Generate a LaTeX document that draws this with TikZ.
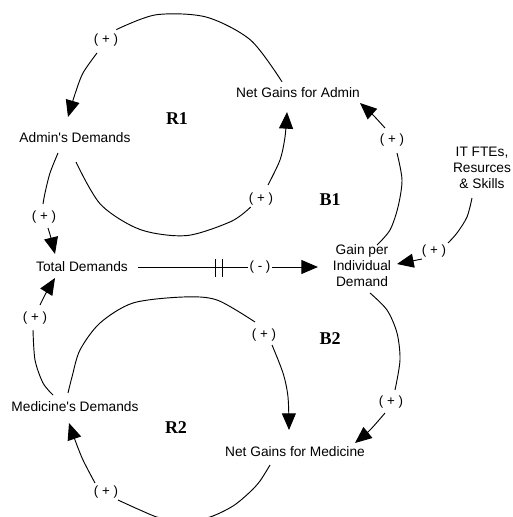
\documentclass[tikz,border=0pt]{standalone}
\usepackage{fontspec}
\setmainfont{Liberation Sans}
\newfontfamily\loopfont{Liberation Serif}
\usetikzlibrary{arrows.meta,calc}
\begin{document}
\begin{tikzpicture}[x=0.75pt,y=-0.75pt,
  var/.style={inner sep=1pt, font=\fontsize{10.3}{12}\selectfont, align=center},
  pol/.style={inner sep=0.5pt, font=\fontsize{10}{11}\selectfont},
  loopname/.style={font=\loopfont\bfseries\fontsize{13.5}{15}\selectfont},
  link/.style={line width=0.7pt, -{Triangle[length=12.5pt,width=10.5pt]}},
  seg/.style={line width=0.7pt},
]
\useasboundingbox (0,0) rectangle (513,517);

% variables
\node[var] (ad)   at (75,138)  {Admin\textquotesingle s Demands};
\node[var] (nga)  at (298,93)  {Net Gains for Admin};
\node[var] (it)   at (482,168) {IT FTEs,\\Resurces\\\& Skills};
\node[var] (gpid) at (362,266) {Gain per\\Individual\\Demand};
\node[var] (td)   at (82,267)  {Total Demands};
\node[var] (md)   at (75,407)  {Medicine\textquotesingle s Demands};
\node[var] (ngm)  at (295,452) {Net Gains for Medicine};

% loop names
\node[loopname] (r1) at (177,119) {R1};
\node[loopname] (b1) at (330,200) {B1};
\node[loopname] (b2) at (330,339) {B2};
\node[loopname] (r2) at (176,428) {R2};

% polarity labels
\node[pol] (l1)  at (106,40)  {( + )};
\node[pol] (l2)  at (261,199) {( + )};
\node[pol] (l3)  at (392,140) {( + )};
\node[pol] (l4)  at (434,251) {( + )};
\node[pol] (l5)  at (260,267) {( - )};
\node[pol] (l6)  at (44,217)  {( + )};
\node[pol] (l7)  at (35,318)  {( + )};
\node[pol] (l8)  at (264,335) {( + )};
\node[pol] (l9)  at (391,402) {( + )};
\node[pol] (l10) at (106,492) {( + )};

% Net Gains for Admin -> Admin's Demands
\draw[seg] plot[smooth] coordinates {($(nga)+(-16,-11.2)$) (250.6,40.1) (206,17) (156,14.8) ($(l1)+(10.3,-10.4)$)};
\draw[link] plot[smooth] coordinates {($(l1)+(-9,13)$) (83,73) (75,94) ($(ad)+(-7,-21)$)};

% Admin's Demands -> Net Gains for Admin
\draw[seg] plot[smooth] coordinates {($(ad)+(1,24)$) (100.6,204.4) (140.1,229.5) (186.4,235.6) (231,221.5) ($(l2)+(-10.3,8)$)};
\draw[link] plot[smooth] coordinates {($(l2)+(7,-14)$) (280,160) (285,137) ($(nga)+(-11,19)$)};

% Gain per Individual Demand -> Net Gains for Admin
\draw[seg] plot[smooth] coordinates {($(gpid)+(15,-21)$) (390,230) (398,207) (402,180) ($(l3)+(5,13)$)};
\draw[link] plot[smooth] coordinates {($(l3)+(-7,-12)$) (373,115) ($(nga)+(62,10)$)};

% IT FTEs -> Gain per Individual Demand
\draw[seg] plot[smooth] coordinates {($(it)+(-10,30)$) (467,217) (457,233) ($(l4)+(14,-8)$)};
\draw[link] ($(l4)+(-12,8)$) -- ($(gpid)+(35,-2)$);

% Total Demands -> Gain per Individual Demand (delay)
\draw[seg] ($(td)+(56,0)$) -- ($(l5)+(-12,0)$);
\draw[seg] (215,259) -- (215,277) (222,259) -- (222,277);
\draw[link] ($(l5)+(12,0)$) -- ($(gpid)+(-44,1)$);

% Admin's Demands -> Total Demands
\draw[seg] plot[smooth] coordinates {($(ad)+(-17,15)$) (50,173) (45,193) ($(l6)+(-1,-13)$)};
\draw[link] plot[smooth] coordinates {($(l6)+(4,11)$) (51,238) ($(td)+(-27,-13)$)};

% Medicine's Demands -> Total Demands
\draw[seg] plot[smooth] coordinates {($(md)+(-22,-12)$) (43,383) (35,360) ($(l7)+(-2,12)$)};
\draw[link] plot[smooth] coordinates {($(l7)+(5,-13)$) (46,293) ($(td)+(-27,11)$)};

% Medicine's Demands -> Net Gains for Medicine
\draw[seg] plot[smooth] coordinates {($(md)+(-7,-14)$) (72,377) (80,350) (100,323) (133,303) (183,297) (217,300) ($(l8)+(-9,-13)$)};
\draw[link] plot[smooth] coordinates {($(l8)+(8,10)$) (283,373) (288,397) ($(ngm)+(-6,-22)$)};

% Net Gains for Medicine -> Medicine's Demands
\draw[seg] plot[smooth] coordinates {($(ngm)+(-25,13)$) (260,481) (250,492) (233,506) (210,517) (185,521) (160,518) (140,510) ($(l10)+(12,8)$)};
\draw[link] plot[smooth] coordinates {($(l10)+(-11,-9)$) (83,460) (75,440) ($(md)+(-6,16)$)};

% Gain per Individual Demand -> Net Gains for Medicine
\draw[seg] plot[smooth] coordinates {($(gpid)+(8,27)$) (387,310) (397,333) (400,360) ($(l9)+(4,-12)$)};
\draw[link] plot[smooth] coordinates {($(l9)+(-6,11)$) (370,430) ($(ngm)+(60,-9)$)};
\end{tikzpicture}
\end{document}
